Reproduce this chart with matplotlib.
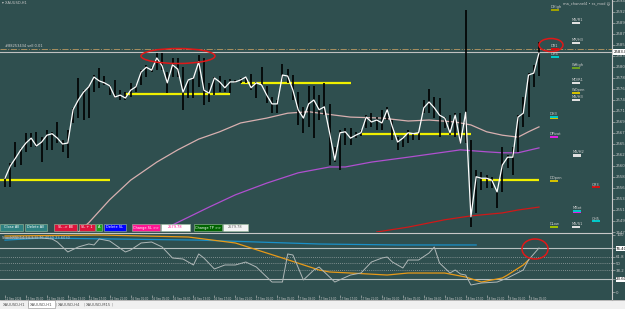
import numpy as np
import matplotlib.pyplot as plt
from matplotlib.patches import Rectangle, Ellipse

W, H = 625, 309
BG = "#2f4f4f"

# XAUUSD H1 bars (high / low / close)
bar_high = [2558.3, 2561.1, 2565.4, 2564.2, 2567.3, 2567.3, 2567.5, 2566.4, 2567.9, 2567.5,
            2569.5, 2565.8, 2567.9, 2572.4, 2578.5, 2576.0, 2576.9, 2579.1, 2580.5, 2578.9,
            2577.1, 2578.1, 2576.0, 2575.6, 2577.5, 2577.1, 2580.1, 2581.2, 2580.7, 2583.6,
            2583.6, 2579.7, 2582.6, 2582.6, 2580.7, 2578.1, 2578.7, 2583.2, 2582.6, 2577.5,
            2578.7, 2578.9, 2578.1, 2578.3, 2578.1, 2578.5, 2578.7, 2579.3, 2577.7, 2580.7,
            2576.9, 2574.6, 2574.0, 2581.4, 2580.3, 2579.1, 2575.6, 2572.6, 2576.9, 2576.9,
            2575.0, 2577.5, 2573.2, 2564.4, 2567.9, 2568.3, 2568.3, 2567.5, 2567.9, 2570.9,
            2571.3, 2570.5, 2572.0, 2572.6, 2569.9, 2566.4, 2566.4, 2567.9, 2567.3, 2567.5,
            2574.0, 2576.3, 2574.6, 2574.4, 2570.5, 2570.9, 2571.3, 2571.3, 2592.4, 2565.8,
            2559.7, 2559.3, 2558.7, 2558.3, 2555.2, 2564.4, 2562.8, 2564.4, 2570.9, 2574.6,
            2579.5, 2581.2, 2585.9]
bar_low = [2556.2, 2556.2, 2560.3, 2560.7, 2563.4, 2564.4, 2564.4, 2561.3, 2563.8, 2563.8,
           2565.2, 2563.4, 2562.1, 2569.3, 2570.3, 2569.9, 2570.3, 2575.6, 2576.5, 2577.1,
           2575.0, 2574.4, 2574.0, 2574.0, 2574.6, 2575.6, 2577.1, 2578.7, 2579.7, 2580.1,
           2580.1, 2575.4, 2578.7, 2578.7, 2572.0, 2574.4, 2574.4, 2576.7, 2573.0, 2573.6,
           2575.0, 2575.6, 2575.6, 2575.4, 2577.5, 2577.5, 2577.5, 2576.0, 2574.4, 2577.1,
           2573.4, 2571.3, 2571.3, 2578.1, 2577.5, 2574.0, 2568.9, 2567.3, 2568.5, 2566.2,
           2569.9, 2570.9, 2560.7, 2561.3, 2559.7, 2564.8, 2564.8, 2566.2, 2566.6, 2568.3,
           2568.5, 2567.9, 2567.9, 2569.9, 2565.8, 2563.8, 2564.4, 2565.2, 2565.8, 2565.8,
           2571.3, 2571.3, 2570.3, 2566.4, 2568.3, 2566.8, 2566.4, 2565.2, 2565.2, 2548.0,
           2550.9, 2555.6, 2556.0, 2556.0, 2551.9, 2555.2, 2560.1, 2558.7, 2563.4, 2568.5,
           2570.5, 2576.7, 2578.9]
bar_close = [2558.0, 2560.5, 2562.1, 2563.8, 2565.2, 2566.2, 2564.6, 2565.4, 2566.8, 2567.1,
             2566.2, 2565.0, 2565.2, 2572.0, 2574.0, 2575.6, 2576.7, 2578.7, 2577.9, 2577.5,
             2576.9, 2574.6, 2575.0, 2574.4, 2576.0, 2576.7, 2579.7, 2580.7, 2580.1, 2582.6,
             2581.0, 2577.5, 2581.2, 2580.3, 2575.6, 2578.1, 2578.5, 2581.8, 2576.0, 2575.4,
             2578.5, 2577.7, 2576.5, 2577.7, 2577.7, 2578.1, 2578.7, 2576.5, 2577.5, 2577.1,
             2575.0, 2573.2, 2573.2, 2579.1, 2578.9, 2576.0, 2572.0, 2570.3, 2573.2, 2574.0,
             2572.0, 2572.6, 2567.3, 2561.7, 2567.3, 2567.5, 2566.2, 2566.8, 2567.3, 2570.5,
             2569.5, 2569.9, 2569.3, 2572.0, 2568.5, 2565.4, 2566.2, 2567.3, 2567.1, 2567.3,
             2572.4, 2573.6, 2572.4, 2570.9, 2570.3, 2567.3, 2570.9, 2565.2, 2571.5, 2550.1,
             2558.3, 2558.0, 2558.0, 2557.6, 2555.2, 2560.7, 2562.3, 2562.3, 2570.5, 2571.3,
             2579.1, 2579.5, 2583.6]

# moving averages (bar index, price)
ma_pink_idx = [14, 16, 20, 24, 29, 33, 37, 41, 45, 50, 54, 58, 63, 66, 72, 77, 81, 86, 89, 92, 95, 98, 100, 102]
ma_pink = [2547.0, 2548.9, 2553.6, 2557.6, 2561.3, 2563.8, 2566.0, 2567.5, 2569.3, 2570.3, 2571.3, 2571.6,
           2570.9, 2570.5, 2570.3, 2569.7, 2569.9, 2569.5, 2568.9, 2567.5, 2566.8, 2566.4, 2567.5, 2568.5]
ma_purple_idx = [30, 39, 44, 50, 56, 62, 65, 70, 77, 83, 87, 92, 95, 98, 102]
ma_purple = [2547.4, 2552.1, 2554.6, 2557.0, 2559.1, 2560.3, 2560.3, 2561.3, 2562.3, 2563.2, 2563.8,
             2563.4, 2563.2, 2563.2, 2564.2]
ma_red_idx = [71, 77, 84, 89, 95, 98, 102]
ma_red = [2547.0, 2548.0, 2549.5, 2550.3, 2550.9, 2551.5, 2552.1]

# yellow levels: (start bar, end bar, price)
levels = [(-1, 20, 2557.6), (23, 43, 2575.2), (45, 66, 2577.5), (68, 89, 2567.1), (91, 102, 2557.6)]
bid = 2583.82
order_price = 2584.43

# sub window oscillator
osc_idx = [0, 3, 7, 9, 10, 12, 14, 16, 17, 18, 20, 23, 24, 26, 28, 30, 32, 34, 36, 37, 38, 40, 42, 44,
           46, 48, 51, 53, 54, 55, 57, 59, 60, 63, 66, 68, 70, 72, 73, 74, 76, 77, 79, 81, 82, 83, 85,
           86, 87, 88, 89, 91, 94, 96, 99, 100, 102]
osc = [94.7, 94.7, 94.7, 93.0, 87.7, 70.2, 79.0, 84.2, 82.5, 93.0, 89.5, 70.2, 73.7, 86.0, 87.7, 79.0,
       59.6, 57.9, 47.4, 66.7, 59.6, 40.4, 47.4, 47.4, 52.6, 43.9, 17.5, 17.5, 66.7, 64.9, 21.1, 38.6,
       43.9, 17.5, 29.8, 33.3, 52.6, 59.6, 61.4, 52.6, 42.1, 56.1, 56.1, 68.4, 78.9, 50.9, 33.3, 38.6,
       31.6, 29.8, 12.3, 15.8, 17.5, 24.6, 38.6, 56.1, 77.2]
sig_idx = [0, 18, 35, 44, 53, 60, 62, 66, 73, 77, 84, 88, 91, 95, 96, 99, 100]
sig = [98.2, 100.0, 96.5, 86.0, 59.6, 38.6, 35.1, 33.3, 29.8, 33.3, 33.3, 26.3, 17.5, 24.6, 29.8, 47.4, 56.1]
blue_idx = [0, 7, 37, 60, 75, 90]
blue = [91.0, 94.7, 91.0, 84.2, 82.5, 82.5]

time_idx = list(range(0, 101, 4))
time_labels = ["12 Sep 2024", "12 Sep 05:00", "12 Sep 09:00", "12 Sep 13:00", "12 Sep 17:00", "12 Sep 21:00",
               "16 Sep 01:00", "16 Sep 05:00", "16 Sep 09:00", "16 Sep 13:00", "16 Sep 17:00", "16 Sep 21:00",
               "17 Sep 01:00", "17 Sep 05:00", "17 Sep 09:00", "17 Sep 13:00", "17 Sep 17:00", "17 Sep 21:00",
               "18 Sep 01:00", "18 Sep 05:00", "18 Sep 09:00", "18 Sep 13:00", "18 Sep 17:00", "18 Sep 21:00",
               "19 Sep 01:00", "19 Sep 05:00"]
price_ticks = [2547.0 + 2.25 * k for k in range(22)]


def fx(x):
    return x / W


def fy(y):
    return 1 - y / H


fig = plt.figure(figsize=(6.25, 3.09), dpi=100, facecolor=BG)
XLIM = (-0.955, 115.95)

# main window
ax = fig.add_axes([0, fy(232), 612 / W, 232 / H], facecolor=BG)
ax.set_xlim(*XLIM)
ax.set_ylim(2547.01, 2594.45)
idx = np.arange(len(bar_close))

for x0, x1, p in levels:
    ax.hlines(p, x0, x1, color="#f0f000", lw=1.6, zorder=2)
ax.plot(ma_pink_idx, ma_pink, color="#d8b0b0", lw=0.9, zorder=2)
ax.plot(ma_purple_idx, ma_purple, color="#b050d0", lw=0.9, zorder=2)
ax.plot(ma_red_idx, ma_red, color="#d01818", lw=0.9, zorder=2)
ax.vlines(idx, bar_low, bar_high, color="black", lw=1.2, zorder=3)
ax.plot(idx, bar_close, color="white", lw=0.9, zorder=4)
ax.axhline(order_price, color="#a89060", lw=0.7, ls="-.", zorder=1)
ax.axhline(bid, color="#c0c0c0", lw=0.8, zorder=1)

for s in ax.spines.values():
    s.set_visible(False)
ax.tick_params(axis="x", bottom=False, labelbottom=False)
ax.yaxis.tick_right()
ax.set_yticks(price_ticks)
ax.set_yticklabels([f"{v:.2f}" for v in price_ticks])
ax.tick_params(axis="y", labelsize=2.8, colors="#c8c8c8", length=2, width=0.4, pad=1)
ax.text(1.003, bid, f"{bid:.2f}", transform=ax.get_yaxis_transform(), fontsize=2.8, color="black",
        va="center", ha="left", bbox=dict(facecolor="white", edgecolor="none", pad=0.4))

# sub window
sub = fig.add_axes([0, fy(295), 612 / W, (295 - 233) / H], facecolor=BG)
sub.set_xlim(*XLIM)
sub.set_ylim(-5.26, 103.5)
for v in (76.4, 23.6):
    sub.axhline(v, color="#b8c0c0", lw=0.8)
for v in (61.8, 50, 38.2):
    sub.axhline(v, color="#9aa4a4", lw=0.6, ls=(0, (1, 1.5)))
sub.plot(blue_idx, blue, color="#1a90c8", lw=0.9)
sub.plot(sig_idx, sig, color="#e89a18", lw=0.9)
sub.plot(osc_idx, osc, color="#b0b8b8", lw=0.7)
for s in sub.spines.values():
    s.set_visible(False)
sub.yaxis.tick_right()
sub_ticks = [0, 23.6, 38.2, 50, 61.8, 76.4, 100]
sub.set_yticks(sub_ticks)
sub.set_yticklabels(["0", "23.6030", "38.2", "50", "61.8", "76.4030", "100"])
sub.tick_params(axis="y", labelsize=2.8, colors="#c8c8c8", length=2, width=0.4, pad=1)
for lbl in sub.get_yticklabels():
    if lbl.get_text() in ("23.6030", "76.4030"):
        lbl.set_color("black")
        lbl.set_bbox(dict(facecolor="white", edgecolor="none", pad=0.4))
sub.set_xticks(time_idx)
sub.set_xticklabels(time_labels)
sub.tick_params(axis="x", labelsize=1.9, colors="#c8c8c8", length=1.2, width=0.4, pad=0.4)
for lbl in sub.get_xticklabels():
    lbl.set_ha("left")
sub.text(0.004, 0.95, "StochRSI(14,14,3,3) 76.4030 23.6030", transform=sub.transAxes,
         fontsize=2.6, color="#c8c8c8", va="top")

# frame lines
fig.add_artist(plt.Line2D([0, fx(612)], [fy(233), fy(233)], color="#c8c8c8", lw=0.8))
fig.add_artist(plt.Line2D([fx(612), fx(612)], [fy(300), 1], color="#c8c8c8", lw=0.8))

# texts in the chart
fig.text(fx(2), fy(3), "\u25be XAUUSD,H1", fontsize=2.6, color="#c8c8c8", va="center")
fig.text(fx(610), fy(3), "ma_channel4 \u2022 ss_mod \u263a", fontsize=2.6, color="#c8c8c8",
         va="center", ha="right")
fig.text(fx(5), fy(46), "#88253434 sell 0.01", fontsize=2.6, color="#d0d0d0", va="center")

pivots = [("DHigh", 551, 7, ["#a0a000"]), ("MS/R1", 572, 20, ["#e0e0e0"]),
          ("MR/H3", 572, 40, ["#e0e0e0"]), ("DR1", 551, 46, ["#d01010"]),
          ("DH4", 551, 54, ["#00c8c8"]), ("WHigh", 572, 65, ["#6b9e23"]),
          ("MD/R1", 572, 80, ["#e0e0e0"]), ("WOpen", 572, 90, ["#d4c000"]),
          ("MS/H3", 572, 97, ["#e0e0e0"]), ("DH3", 550, 114, ["#00c8c8", "#d4c000"]),
          ("DPivot", 550, 134, ["#e020e0"]), ("MS/H2", 573, 152, ["#e0e0e0", "#e0e0e0"]),
          ("DOpen", 550, 178, ["#d4c000"]), ("QR3", 592, 184, ["#d01010"]),
          ("MBot", 573, 208, ["#00c8c8", "#e020e0"]), ("QH5", 592, 218, ["#00c8c8"]),
          ("DLow", 550, 224, ["#a0c000"]), ("MS/S1", 572, 224, ["#e0e0e0"])]
for name, x, y, cols in pivots:
    fig.text(fx(x), fy(y), name, fontsize=2.6, color="#d0d0d0", va="center")
    for k, c in enumerate(cols):
        fig.add_artist(Rectangle((fx(x), fy(y + 3.5 + 1.5 * k)), 8 / W, 1.3 / H,
                                 transform=fig.transFigure, facecolor=c, edgecolor="none"))

# trade buttons
buttons = [("Close All", 0, 23, "#2e8080", "white"), ("Delete All", 25, 47, "#2e8080", "white"),
           ("SL -> BE", 54, 77, "#dc143c", "white"), ("SL + 1", 79, 95, "#dc143c", "white"),
           ("A", 96, 102, "#1e9e1e", "white"), ("Delete SL", 104, 126, "#0000ff", "white"),
           ("Change SL >>", 132, 160, "#ff1493", "white"), ("2579.78", 161, 190, "#ffffff", "#ff1493"),
           ("Change TP >>", 194, 222, "#006400", "white"), ("2579.78", 223, 248, "#f4f4f4", "#606060")]
for name, x0, x1, fc, tc in buttons:
    fig.add_artist(Rectangle((fx(x0), fy(231)), (x1 - x0) / W, 7 / H, transform=fig.transFigure,
                             facecolor=fc, edgecolor="#a0c0a0", lw=0.4))
    fig.text(fx((x0 + x1) / 2), fy(227.5), name, fontsize=2.5, color=tc, ha="center", va="center")

# hand drawn red marks
for cx, cy, w, h in [(178, 56, 74, 15), (551, 45, 24, 13), (535, 249, 26, 20)]:
    fig.add_artist(Ellipse((fx(cx), fy(cy)), w / W, h / H, transform=fig.transFigure,
                           facecolor="none", edgecolor="#e01818", lw=1.1))

# tab bar
fig.add_artist(Rectangle((0, 0), 1, 9 / H, transform=fig.transFigure, facecolor="#f0f0f0", edgecolor="none"))
fig.add_artist(plt.Line2D([0, 1], [fy(300), fy(300)], color="#a0a0a0", lw=0.5))
fig.add_artist(Rectangle((fx(28), fy(308)), 27 / W, 8 / H, transform=fig.transFigure,
                         facecolor="white", edgecolor="#909090", lw=0.4))
for name, x in [("XAUUSD,H1", 3), ("XAUUSD,H1", 30), ("XAUUSD,H4", 58), ("XAUUSD,M15", 86)]:
    fig.text(fx(x), fy(304.5), name, fontsize=2.7, color="#505050", va="center")
for x in (27, 56, 84, 112):
    fig.text(fx(x), fy(304.5), "|", fontsize=3, color="#909090", va="center")

fig.savefig("out.png", dpi=100, facecolor=BG)
